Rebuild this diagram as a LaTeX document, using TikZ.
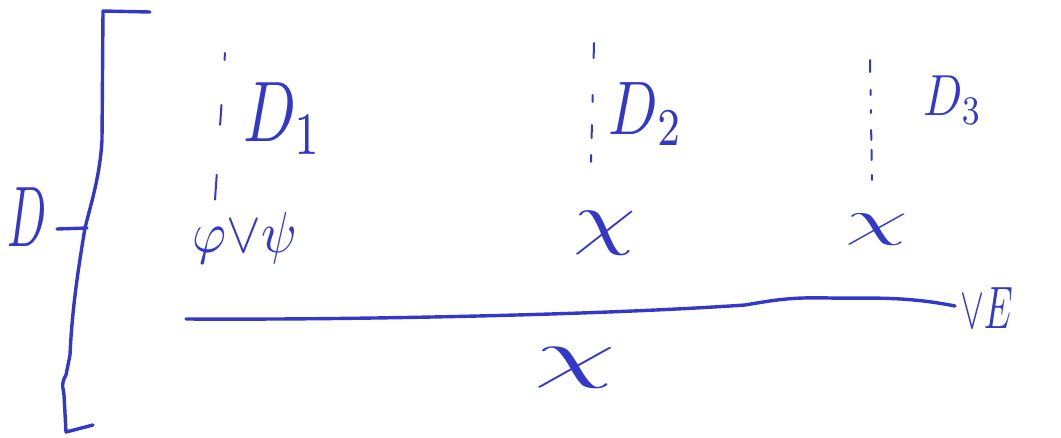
\documentclass[tikz,border=0pt]{standalone}
\usepackage{amssymb}
\definecolor{ink}{RGB}{52,56,200}
\tikzset{
  ink/.style={draw=ink, line width=3.4pt, line cap=round, line join=round},
  dashline/.style={draw=ink, line width=2pt, line cap=round},
  lbl/.style={text=ink, inner sep=0pt, outer sep=0pt, transform shape},
}
\begin{document}
\begin{tikzpicture}[x=1pt,y=-1pt]
\useasboundingbox (0,0) rectangle (1061,437);
% labels
\node[lbl, xscale=4.6, yscale=8.6] (D)   at (27,217)  {$D$};
\node[lbl, xscale=6.2, yscale=8.6] (D1)  at (283,119) {$D_{1}$};
\node[lbl, xscale=5.8, yscale=7.6] (D2)  at (646,114) {$D_{2}$};
\node[lbl, xscale=4.6, yscale=5.8] (D3)  at (953,100) {$D_{3}$};
\node[lbl, xscale=5.2, yscale=5.8] (phi) at (245,238) {$\varphi{\vee}\psi$};
\node[lbl, xscale=10, yscale=7] (chi2) at (605,233) {$\chi$};
\node[lbl, xscale=10, yscale=5] (chi3) at (877,230) {$\chi$};
\node[lbl, xscale=13, yscale=6.5] (chi)  at (575,368) {$\chi$};
\node[lbl, xscale=3.6, yscale=6] (rule) at (987,308) {$\vee E$};
% bracket
\coordinate (bTop) at (150,12);
\coordinate (bBot) at (93,425);
\coordinate (tick) at (87,228);
\draw[ink] (bTop) -- (103,11) -- (102,140) .. controls (100,175) and (92,200) .. (85,228)
  .. controls (78,270) and (72,310) .. (70,355) -- (66,375) .. controls (60,385) and (64,390) .. (64,395)
  -- (66,432) -- (bBot);
\coordinate (Dt) at (57,229);
\draw[ink] (Dt) -- (tick);
% dashed vertical lines
\coordinate (d1a) at (225,53); \coordinate (d1b) at (215,200);
\draw[dashline, dash pattern=on 7pt off 45pt on 20pt off 50pt on 25pt] (d1a) -- (d1b);
\coordinate (d2a) at (594,43); \coordinate (d2b) at (591,162);
\draw[dashline, dash pattern=on 15pt off 37pt on 7pt off 23pt on 13pt off 17pt on 7pt] (d2a) -- (d2b);
\coordinate (d3a) at (870,60); \coordinate (d3b) at (872,180);
\draw[dashline, dash pattern=on 12pt off 18pt on 5pt off 15pt on 3pt off 17pt on 10pt off 10pt on 10pt off 15pt on 5pt] (d3a) -- (d3b);
% inference line
\coordinate (lineL) at (186,319);
\coordinate (lineR) at (955,306);
\draw[ink] (lineL) .. controls (350,320) and (600,315) .. (745,305)
  .. controls (775,300) and (790,297) .. (830,298)
  .. controls (860,299) and (900,295) .. (lineR);
\end{tikzpicture}
\end{document}
